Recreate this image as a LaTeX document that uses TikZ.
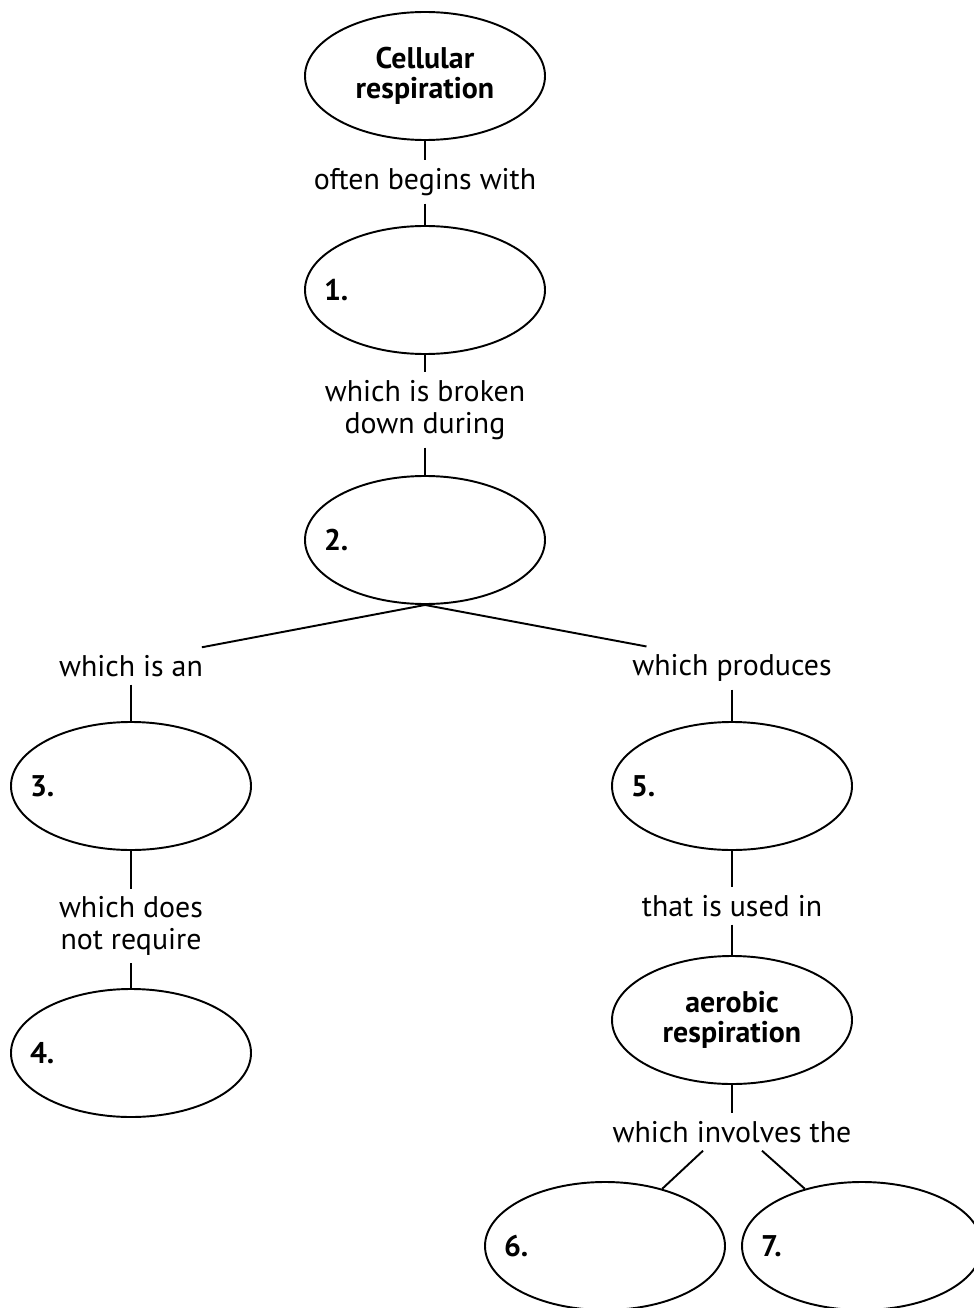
\documentclass[tikz,border=0pt]{standalone}
\usepackage{fontspec}
\setmainfont{PT Sans}
\usetikzlibrary{shapes.geometric}
\tikzset{%
  % Specifications for style of nodes:
         blank/.style = {ellipse, draw=black, line width=1.1pt,
                         minimum width=4.8cm, minimum height=2.56cm,
                         inner sep=0pt, align=center,
                         font=\bfseries\fontsize{17}{17}\selectfont},
           num/.style = {blank, label={[anchor=west, inner sep=0pt, xshift=0.38cm,
                         font=\bfseries\fontsize{17}{17}\selectfont]west:#1}},
          link/.style = {inner sep=0.14cm, align=center,
                         font=\fontsize{17}{18}\selectfont},
}
\begin{document}
\begin{tikzpicture}[node distance=2.4cm, line width=1.1pt]
  \useasboundingbox (0,0) rectangle (19.46,-26.16);
  % Specification of nodes (position, etc.)

  \node (cell)        [blank] at (8.5,-1.52) {Cellular\\respiration};
  \node (begins)      [link, below of=cell, yshift=0.28cm] {often begins with};
  \node (one)         [num=1., below of=begins, yshift=0.24cm] {};
  \node (broken)      [link, below of=one] {which is broken\\down during};
  \node (two)         [num=2., below of=broken, yshift=-0.2cm] {};
  \node (isan)        [link, left of=two, xshift=-3.48cm, yshift=-2.52cm] {which is an};
  \node (produces)    [link, right of=two, xshift=3.74cm, yshift=-2.56cm] {which produces};
  \node (three)       [num=3., below of=isan] {};
  \node (notreq)      [link, below of=three, yshift=-0.4cm] {which does\\not require};
  \node (four)        [num=4., below of=notreq, yshift=-0.14cm] {};
  \node (five)        [num=5., below of=produces, yshift=0.04cm] {};
  \node (used)        [link, below of=five] {that is used in};
  \node (aerobic)     [blank, below of=used, yshift=0.12cm] {aerobic\\respiration};
  \node (involves)    [link, below of=aerobic, yshift=0.16cm] {which involves the};
  \node (six)         [num=6., below of=involves, xshift=-2.54cm, yshift=0.12cm] {};
  \node (seven)       [num=7., below of=involves, xshift=2.6cm, yshift=0.12cm] {};

  \draw (cell) -- (begins) -- (one);
  \draw (one) -- (broken) -- (two);
  \draw (two.south) -- ([xshift=-0.18cm]isan.north east);
  \draw (two.south) -- ([xshift=0.44cm]produces.north west);
  \draw (isan) -- (three) -- (notreq) -- (four);
  \draw (produces) -- (five) -- (used) -- (aerobic) -- (involves);
  \draw ([xshift=-0.58cm]involves.south) -- (six.45);
  \draw ([xshift=0.6cm]involves.south) -- (seven.135);

\end{tikzpicture}
\end{document}
